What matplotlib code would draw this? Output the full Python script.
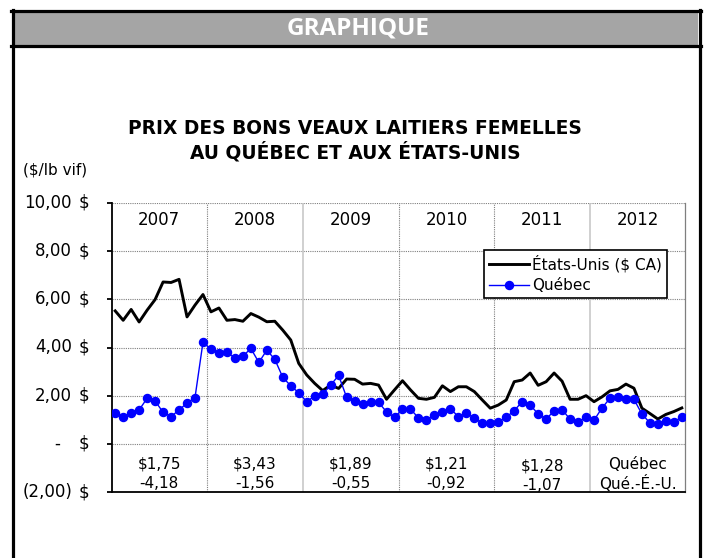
import matplotlib
matplotlib.use('Agg')
import matplotlib.pyplot as plt
import matplotlib.transforms as mtransforms
from matplotlib.lines import Line2D
from matplotlib.patches import Rectangle

# prix mensuels ($/lb vif), janv. 2007 - déc. 2012
etats_unis = [5.52, 5.13, 5.58, 5.06, 5.55, 5.99, 6.72, 6.70, 6.83, 5.27, 5.76, 6.20,
              5.48, 5.64, 5.13, 5.16, 5.09, 5.41, 5.26, 5.07, 5.09, 4.72, 4.31, 3.34,
              2.86, 2.51, 2.21, 2.44, 2.30, 2.69, 2.68, 2.48, 2.51, 2.44, 1.85, 2.24,
              2.62, 2.24, 1.89, 1.85, 1.93, 2.41, 2.17, 2.37, 2.37, 2.17, 1.82, 1.48,
              1.61, 1.82, 2.58, 2.65, 2.94, 2.43, 2.58, 2.94, 2.60, 1.85, 1.85, 2.00,
              1.75, 1.95, 2.20, 2.26, 2.48, 2.31, 1.48, 1.26, 1.03, 1.22, 1.34, 1.49]
quebec = [1.27, 1.13, 1.27, 1.41, 1.89, 1.78, 1.31, 1.13, 1.41, 1.69, 1.92, 4.22,
          3.92, 3.78, 3.80, 3.57, 3.64, 3.96, 3.38, 3.89, 3.51, 2.76, 2.41, 2.12,
          1.75, 1.99, 2.06, 2.44, 2.84, 1.93, 1.79, 1.66, 1.72, 1.72, 1.33, 1.10,
          1.44, 1.44, 1.08, 1.00, 1.18, 1.32, 1.46, 1.13, 1.28, 1.06, 0.86, 0.85,
          0.92, 1.10, 1.38, 1.75, 1.61, 1.24, 1.02, 1.38, 1.42, 1.02, 0.92, 1.10,
          0.98, 1.49, 1.89, 1.96, 1.85, 1.85, 1.24, 0.87, 0.83, 0.95, 0.92, 1.10]

annees = ['2007', '2008', '2009', '2010', '2011', '2012']
moy_quebec = ['$1,75', '$3,43', '$1,89', '$1,21', '$1,28', 'Québec']
ecart_qc_eu = ['-4,18', '-1,56', '-0,55', '-0,92', '-1,07', 'Qué.-É.-U.']

ytick_vals = [10, 8, 6, 4, 2, 0, -2]
ytick_txt = ['10,00', '8,00', '6,00', '4,00', '2,00', '-', '(2,00)']

W, H = 706, 558


def fx(px):
    return px / W


def fy(py):
    return 1 - py / H


plt.rcParams['font.family'] = ['DejaVu Sans']

fig = plt.figure(figsize=(W / 100, H / 100), dpi=100)
fig.patch.set_facecolor('white')

# cadre + bandeau
fig.patches.append(Rectangle((fx(13), fy(45)), fx(698) - fx(13), fy(12) - fy(45),
                             transform=fig.transFigure, facecolor='#A5A5A5',
                             edgecolor='none', zorder=0))
for xs, ys in [([12.5, 12.5], [10, 558]), ([699.5, 699.5], [10, 558]),
               ([11, 701], [10.5, 10.5]), ([11, 701], [46, 46])]:
    fig.add_artist(Line2D([fx(x) for x in xs], [fy(y) for y in ys],
                          transform=fig.transFigure, color='black', lw=2.3))
fig.text(fx(358), fy(29), 'GRAPHIQUE', ha='center', va='center', color='white',
         fontsize=17.5, fontweight='bold', family='Open Sans')

fig.text(fx(355), fy(129), 'PRIX DES BONS VEAUX LAITIERS FEMELLES',
         ha='center', va='center', fontsize=13.4, fontweight='bold')
fig.text(fx(355), fy(152), 'AU QUÉBEC ET AUX ÉTATS-UNIS',
         ha='center', va='center', fontsize=13.4, fontweight='bold')
fig.text(fx(23), fy(170), '($/lb vif)', ha='left', va='center', fontsize=11)

ax = fig.add_axes([fx(112), fy(492), fx(685) - fx(112), fy(203) - fy(492)])
x = list(range(len(quebec)))

l_eu, = ax.plot(x, etats_unis, color='black', lw=2.1, zorder=3)
l_qc, = ax.plot(x, quebec, color='#0000FF', lw=1, marker='o', ms=5.8, zorder=4)

ax.set_xlim(-0.4, 71.4)
ax.set_ylim(-2, 10)

for v in ytick_vals[:-1]:
    ax.axhline(v, color='#7F7F7F', lw=0.8, ls=(0, (1, 1)), zorder=1)
for k in range(1, 6):
    if k in (2, 5):
        ax.axvline(11.5 + 12 * (k - 1), color='#C8C8C8', lw=1.2, zorder=1)
    else:
        ax.axvline(11.5 + 12 * (k - 1), color='#7F7F7F', lw=0.8, ls=(0, (1, 1)), zorder=1)

ax.spines['top'].set_visible(False)
ax.spines['right'].set_color('#7F7F7F')
ax.spines['right'].set_linewidth(0.9)
ax.spines['left'].set_linewidth(1.3)
ax.spines['bottom'].set_linewidth(1.3)

ax.set_xticks([])
ax.set_yticks(ytick_vals)
ax.set_yticklabels([])
ax.tick_params(axis='y', direction='out', length=3.6, width=1.3)

trans = mtransforms.blended_transform_factory(fig.transFigure, ax.transData)
for v, t in zip(ytick_vals, ytick_txt):
    if t == '-':
        fig.text(fx(57), v, t, transform=trans, ha='center', va='center', fontsize=12)
    else:
        fig.text(fx(72), v, t, transform=trans, ha='right', va='center', fontsize=12)
    fig.text(fx(89), v, '$', transform=trans, ha='right', va='center', fontsize=12)

for k, an in enumerate(annees):
    xc = 5.5 + 12 * k
    ax.text(xc, 9.3, an, ha='center', va='center', fontsize=12)
    dy = -0.08 if an == '2011' else 0
    ax.text(xc, -0.84 + dy, moy_quebec[k], ha='center', va='center', fontsize=11)
    ax.text(xc, -1.65 + dy, ecart_qc_eu[k], ha='center', va='center', fontsize=11)

leg = ax.legend([l_eu, l_qc], ['États-Unis ($ CA)', 'Québec'],
                loc='upper left', bbox_to_anchor=(0.649, 0.838), borderaxespad=0,
                fontsize=11, handlelength=2.6, handletextpad=0.2, labelspacing=0.35,
                fancybox=False, framealpha=1, edgecolor='black', borderpad=0.35)
leg.get_frame().set_linewidth(1.2)

fig.savefig('out.png', dpi=100)
